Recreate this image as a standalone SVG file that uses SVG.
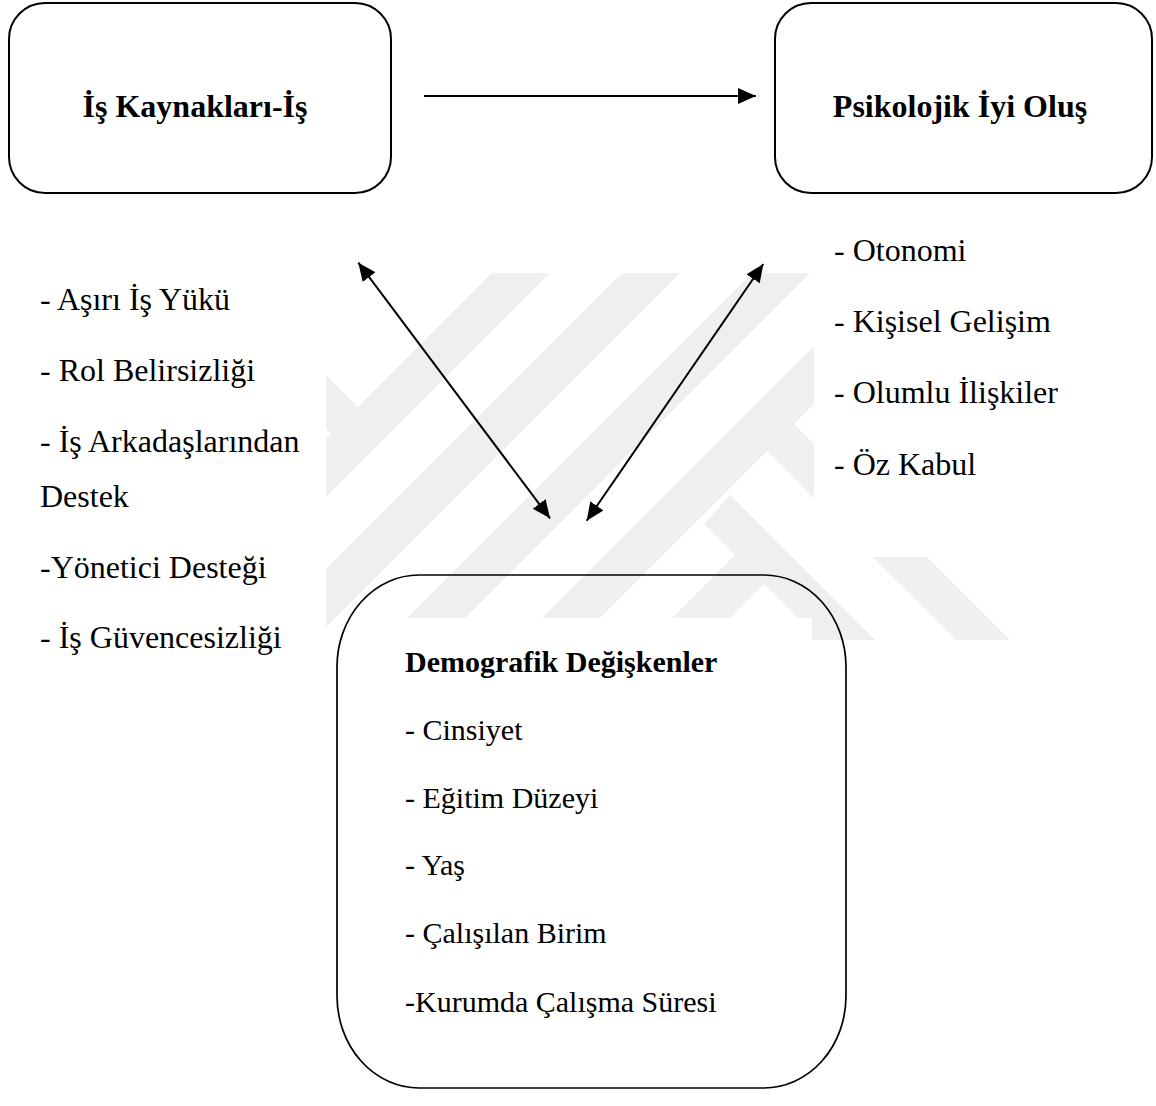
<svg xmlns="http://www.w3.org/2000/svg" width="1156" height="1106" viewBox="0 0 1156 1106">
  <defs>
    <style>
      .box { fill: none; stroke: #000; stroke-width: 2; }
      .title { font-family: "Liberation Serif", "Times New Roman", serif; font-weight: bold; font-size: 32px; fill: #000; }
      .item { font-family: "Liberation Serif", "Times New Roman", serif; font-size: 32px; fill: #000; }
      .item30 { font-family: "Liberation Serif", "Times New Roman", serif; font-size: 30px; fill: #000; }
      .title30 { font-family: "Liberation Serif", "Times New Roman", serif; font-weight: bold; font-size: 30px; fill: #000; }
      .conn { stroke: #000; stroke-width: 2; fill: none; }
      .wm { fill: #efefef; }
    </style>
    <marker id="ah" markerUnits="userSpaceOnUse" markerWidth="19" markerHeight="17" refX="18" refY="8" orient="auto-start-reverse">
      <path d="M0,0 L18,8 L0,16 z" fill="#000"/>
    </marker>
    <clipPath id="wmclip">
      <rect x="326" y="273" width="774" height="367"/>
    </clipPath>
  </defs>

  <rect x="0" y="0" width="1156" height="1106" fill="#ffffff"/>

  <g id="watermark" clip-path="url(#wmclip)">
    <polygon class="wm" points="492,273 550,273 100,723 42,723"/>
    <polygon class="wm" points="622,273 680,273 230,723 172,723"/>
    <polygon class="wm" points="752,273 810,273 360,723 302,723"/>
    <polygon class="wm" points="887,273 945,273 495,723 437,723"/>
    <polygon class="wm" points="1017,273 1075,273 625,723 567,723"/>
    <polygon class="wm" points="1147,273 1205,273 755,723 697,723"/>
    <polygon class="wm" points="326,375 358,407 362,461 326,429"/>
    <polygon fill="#ffffff" points="768,452 1100,784 1100,865 730,495"/>
    <polygon class="wm" points="766,396 1100,730 1100,784 768,452"/>
    <polygon class="wm" points="730,495 1100,865 1100,920 704,524"/>
    <rect x="814" y="273" width="290" height="284" fill="#ffffff"/>
    <rect x="385" y="618" width="427" height="30" fill="#ffffff"/>
  </g>

  <g id="connectors">
    <line class="conn" x1="424" y1="96" x2="756" y2="96" marker-end="url(#ah)"/>
    <line class="conn" x1="358.3" y1="262.7" x2="550" y2="518.3" marker-start="url(#ah)" marker-end="url(#ah)"/>
    <line class="conn" x1="763.3" y1="264" x2="586.7" y2="520.7" marker-start="url(#ah)" marker-end="url(#ah)"/>
  </g>

  <g id="node-is-kaynaklari">
    <rect class="box" x="9" y="3" width="382" height="190" rx="36" ry="36"/>
    <text class="title" x="195" y="117" text-anchor="middle">İş Kaynakları-İş</text>
  </g>

  <g id="node-psikolojik">
    <rect class="box" x="775" y="3" width="377" height="190" rx="36" ry="36"/>
    <text class="title" x="960" y="117" text-anchor="middle">Psikolojik İyi Oluş</text>
  </g>

  <g id="list-is-kaynaklari">
    <text class="item" x="40" y="310">- Aşırı İş Yükü</text>
    <text class="item" x="40" y="381">- Rol Belirsizliği</text>
    <text class="item" x="40" y="452">- İş Arkadaşlarından</text>
    <text class="item" x="40" y="507">Destek</text>
    <text class="item" x="40" y="578">-Yönetici Desteği</text>
    <text class="item" x="40" y="648">- İş Güvencesizliği</text>
  </g>

  <g id="list-psikolojik">
    <text class="item" x="834" y="261">- Otonomi</text>
    <text class="item" x="834" y="332">- Kişisel Gelişim</text>
    <text class="item" x="834" y="403">- Olumlu İlişkiler</text>
    <text class="item" x="834" y="475">- Öz Kabul</text>
  </g>

  <g id="node-demografik">
    <rect class="box" x="337" y="575" width="509" height="513" rx="82" ry="92" style="stroke-width:1.7"/>
    <text class="title30" x="405" y="672">Demografik Değişkenler</text>
    <text class="item30" x="405" y="740">- Cinsiyet</text>
    <text class="item30" x="405" y="808">- Eğitim Düzeyi</text>
    <text class="item30" x="405" y="875">- Yaş</text>
    <text class="item30" x="405" y="943">- Çalışılan Birim</text>
    <text class="item30" x="405" y="1012">-Kurumda Çalışma Süresi</text>
  </g>
</svg>
